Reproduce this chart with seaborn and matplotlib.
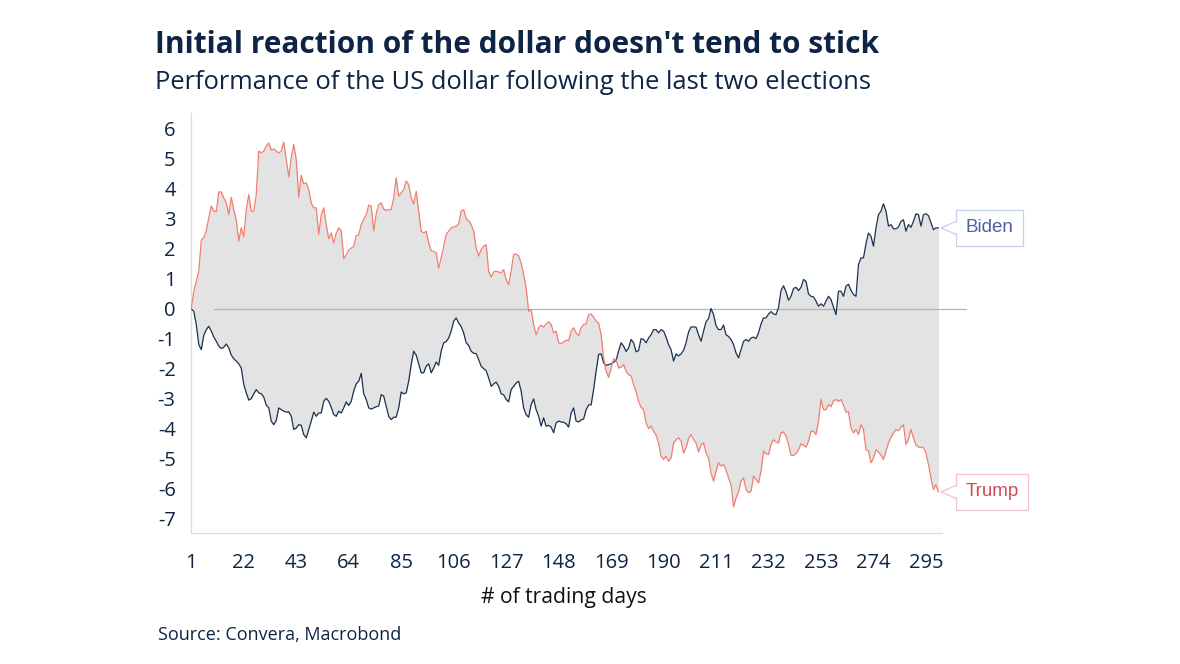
import matplotlib
matplotlib.use("Agg")
import matplotlib.pyplot as plt
import numpy as np
import pandas as pd
import seaborn as sns
from matplotlib.patches import Polygon
from matplotlib.lines import Line2D
from matplotlib.transforms import ScaledTranslation

# ---------------- data ----------------
trump = [
    0, 0.59, 0.92, 1.26, 2.29, 2.38, 2.6, 3.04, 3.43, 3.26,
    3.24, 3.9, 3.9, 3.7, 3.53, 3.14, 3.72, 3.3, 2.97, 2.26,
    2.7, 2.4, 3.31, 3.81, 3.26, 3.26, 3.81, 5.26, 5.2, 5.26,
    5.42, 5.53, 5.3, 5.33, 5.26, 5.2, 5.26, 5.56, 4.98, 4.4,
    5.03, 5.48, 4.98, 3.73, 4.45, 4.17, 4.2, 3.98, 3.53, 3.37,
    3.37, 2.48, 3.14, 3.37, 2.81, 2.34, 2.53, 2.2, 2.53, 2.7,
    2.61, 1.68, 1.81, 1.96, 2.03, 2.08, 2.44, 2.47, 2.81, 2.98,
    3.14, 3.46, 3.42, 2.6, 3.17, 3.48, 3.53, 3.33, 3.28, 3.31,
    3.31, 3.7, 4.37, 3.76, 3.87, 3.98, 4.26, 4.14, 3.7, 3.5,
    3.92, 3.26, 2.59, 2.53, 2.59, 2.2, 1.94, 1.92, 1.87, 1.35,
    1.7, 2.09, 2.48, 2.59, 2.7, 2.73, 2.76, 2.83, 3.26, 3.31,
    3.01, 2.94, 2.81, 2.59, 2.03, 1.76, 1.98, 2.09, 2.14, 1.26,
    1.06, 1.23, 1.26, 1.23, 1.2, 1.31, 0.98, 0.81, 1.26, 1.81,
    1.83, 1.76, 1.53, 1.14, 0.7, -0.08, -0.02, -0.52, -0.86, -0.63,
    -0.54, -0.61, -0.5, -0.43, -0.52, -0.8, -0.74, -1.13, -1.16, -1.1,
    -1.05, -1.05, -0.74, -0.63, -0.8, -0.89, -0.63, -0.52, -0.5, -0.19,
    -0.17, -0.27, -0.41, -0.47, -0.86, -1.63, -2.08, -2.28, -1.97, -1.67,
    -1.7, -1.97, -1.94, -1.86, -2.08, -2.19, -2.24, -2.52, -2.77, -3.08,
    -3.28, -3.36, -3.8, -3.99, -3.91, -4.08, -4.21, -4.47, -4.91, -5.02,
    -4.91, -5.08, -4.97, -4.47, -4.36, -4.3, -4.41, -4.8, -4.63, -4.32,
    -4.19, -4.36, -4.47, -4.77, -4.52, -4.47, -4.8, -4.97, -5.47, -5.74,
    -5.41, -5.13, -5.24, -5.19, -5.36, -5.63, -5.86, -6.6, -6.3, -6.1,
    -5.74, -5.63, -6.02, -6.13, -6.08, -5.58, -5.69, -5.8, -5.41, -4.74,
    -4.83, -4.86, -4.52, -4.36, -4.44, -4.47, -4.13, -4.1, -4.24, -4.52,
    -4.88, -4.88, -4.82, -4.69, -4.5, -4.54, -4.61, -4.41, -4.08, -4.08,
    -4.19, -3.74, -3.02, -3.36, -3.36, -3.19, -3.26, -3.06, -3.02, -3.08,
    -3.02, -3.21, -3.44, -3.43, -3.97, -4.13, -4.02, -4.19, -3.86, -4.02,
    -4.69, -4.74, -5.13, -4.97, -4.69, -4.77, -4.88, -5.02, -4.74, -4.47,
    -4.28, -4.13, -4.02, -4.06, -3.94, -3.86, -4.52, -4.36, -4.02, -4.3,
    -4.54, -4.61, -4.61, -4.63, -4.8, -5.19, -5.63, -6.02, -5.86, -6.1,
]

biden = [
    0, -0.08, -0.52, -1.19, -1.36, -0.88, -0.69, -0.58, -0.74, -0.94,
    -1.08, -1.24, -1.32, -1.28, -1.17, -1.3, -1.54, -1.66, -1.74, -1.83,
    -1.97, -2.52, -2.8, -3.04, -2.99, -2.83, -2.69, -2.8, -2.83, -2.94,
    -3.21, -3.3, -3.74, -3.86, -3.72, -3.3, -3.36, -3.41, -3.44, -3.43,
    -3.58, -4.02, -3.97, -3.86, -3.88, -4.19, -4.3, -4.02, -3.74, -3.44,
    -3.58, -3.47, -3.47, -3.08, -2.98, -3.08, -3.28, -3.52, -3.58, -3.41,
    -3.47, -3.3, -3.1, -3.22, -3.08, -2.74, -2.5, -2.41, -2.15, -2.83,
    -3.02, -3.3, -3.34, -3.3, -3.26, -3.24, -2.86, -2.91, -3.24, -3.58,
    -3.69, -3.61, -3.61, -3.3, -2.77, -2.83, -2.8, -2.41, -1.86, -1.41,
    -1.54, -1.83, -2.13, -2.13, -1.91, -1.83, -2.13, -1.97, -1.77, -1.88,
    -1.41, -1.13, -1.09, -0.97, -0.74, -0.41, -0.3, -0.47, -0.59, -0.8,
    -1.13, -1.22, -1.41, -1.48, -1.49, -1.69, -1.91, -1.99, -2.06, -2.3,
    -2.58, -2.5, -2.44, -2.58, -2.83, -2.86, -3.02, -3.1, -2.69, -2.58,
    -2.47, -2.41, -2.74, -3.3, -3.53, -3.61, -3.19, -3.0, -3.36, -3.58,
    -3.91, -3.63, -3.91, -3.88, -3.94, -4.13, -3.8, -3.74, -3.77, -3.78,
    -3.83, -3.94, -3.47, -3.3, -3.74, -3.77, -3.7, -3.67, -3.36, -3.2,
    -3.2, -2.69, -2.08, -1.52, -1.5, -1.8, -1.88, -1.86, -1.83, -1.78,
    -1.71, -1.41, -1.13, -1.24, -1.42, -1.3, -1.02, -1.13, -1.43, -1.39,
    -0.99, -1.02, -1.13, -0.97, -0.86, -0.69, -0.69, -0.8, -0.69, -0.74,
    -0.94, -1.19, -1.36, -1.74, -1.5, -1.57, -1.5, -1.38, -1.13, -0.77,
    -0.6, -0.6, -0.61, -0.86, -1.08, -0.74, -0.43, -0.32, 0.01, -0.19,
    -0.56, -0.69, -0.69, -0.54, -0.86, -0.92, -1.02, -1.19, -1.47, -1.63,
    -1.36, -1.08, -1.02, -1.08, -0.97, -0.94, -0.99, -0.8, -0.5, -0.3,
    -0.3, -0.17, -0.09, -0.17, -0.19, 0.05, 0.61, 0.77, 0.57, 0.29,
    0.42, 0.68, 0.72, 0.61, 0.72, 0.98, 0.92, 0.5, 0.42, 0.4,
    0.26, 0.09, 0.17, 0.09, 0.26, 0.42, 0.31, 0.06, -0.19, 0.59,
    0.59, 0.42, 0.76, 0.82, 0.62, 0.48, 0.42, 1.48, 1.7, 1.7,
    2.17, 2.53, 2.42, 2.09, 2.7, 3.14, 3.26, 3.5, 3.26, 2.76,
    2.81, 2.67, 2.67, 2.73, 2.92, 2.97, 2.59, 2.81, 2.72, 2.92,
    3.17, 3.14, 2.76, 3.14, 3.17, 3.11, 2.87, 2.64, 2.7, 2.7,
]

days = list(range(1, len(biden) + 1))
x_ticks = [1, 22, 43, 64, 85, 106, 127, 148, 169, 190, 211, 232, 253, 274, 295]
y_ticks = [6, 5, 4, 3, 2, 1, 0, -1, -2, -3, -4, -5, -6, -7]
series_names = ["Biden", "Trump"]

title = "Initial reaction of the dollar doesn't tend to stick"
subtitle = "Performance of the US dollar following the last two elections"
x_label = "# of trading days"
source = "Source: Convera, Macrobond"

# ---------------- style ----------------
NAVY = "#0d2444"
BIDEN_C = "#1a3150"
TRUMP_C = "#f07f71"
FILL_C = "#e3e3e3"

sns.set_style("white")
plt.rcParams["font.family"] = ["Open Sans", "DejaVu Sans"]

W, H = 1180, 664
fig = plt.figure(figsize=(W / 100, H / 100), dpi=100)
renderer = fig.canvas.get_renderer()

L, R, T, B = 191.3, 941.7, 113, 533
ax = fig.add_axes([L / W, 1 - B / H, (R - L) / W, (B - T) / H])

df = pd.DataFrame({
    "day": days * 2,
    "value": biden + trump,
    "series": [series_names[0]] * len(biden) + [series_names[1]] * len(trump),
})

ax.fill_between(days, biden, trump, color=FILL_C, lw=0, zorder=1)
ax.axhline(0, xmin=0.0307, xmax=1.032, color="#b3b3b3", lw=0.9, zorder=1.5, clip_on=False)
sns.lineplot(data=df, x="day", y="value", hue="series",
             palette={"Biden": BIDEN_C, "Trump": TRUMP_C},
             estimator=None, sort=False, legend=False, lw=0.9, ax=ax, zorder=3)

ax.set_xlim(1, 301.3)
ax.set_ylim(-7.47, 6.53)
ax.set_xticks(x_ticks)
ax.set_xticklabels([str(t) for t in x_ticks])
ax.set_yticks(y_ticks)
ax.set_yticklabels([str(t) for t in y_ticks])
ax.set_xlabel("")
ax.set_ylabel("")

for s in ["top", "right"]:
    ax.spines[s].set_visible(False)
for s in ["left", "bottom"]:
    ax.spines[s].set_color("#dcdcdc")
    ax.spines[s].set_linewidth(0.9)

ax.tick_params(axis="both", colors="#a8a8a8", labelcolor=NAVY, labelsize=14.5,
               length=5.2, width=0.8, direction="out")
ax.tick_params(axis="x", pad=9)
ax.tick_params(axis="y", pad=6)

# ---------------- texts ----------------
def fit_width(txt, target):
    w = txt.get_window_extent(renderer).width
    txt.set_fontsize(txt.get_fontsize() * target / w)

t1 = fig.text(155 / W, 1 - 53 / H, title, fontsize=19, fontweight="bold",
              color=NAVY, ha="left", va="baseline")
fit_width(t1, 722)
t2 = fig.text(155 / W, 1 - 89 / H, subtitle, fontsize=17, color=NAVY,
              ha="left", va="baseline")
fit_width(t2, 717)
t3 = fig.text(564 / W, 1 - 603 / H, x_label, fontsize=14, color="#111111",
              ha="center", va="baseline")
fit_width(t3, 167)
t4 = fig.text(158 / W, 1 - 640 / H, source, fontsize=12, color=NAVY,
              ha="left", va="baseline")
fit_width(t4, 242)

# ---------------- end-of-line callouts ----------------
def callout(day, val, text, tcolor, ecolor):
    ax.annotate(text, xy=(day, val), xytext=(19.7, 0), textcoords="offset points",
                ha="left", va="center", color=tcolor, fontsize=13.5,
                family=["Liberation Sans", "DejaVu Sans"],
                bbox=dict(boxstyle="square,pad=0.5", fc="white", ec=ecolor, lw=0.9),
                annotation_clip=False, zorder=6)
    tr = fig.dpi_scale_trans + ScaledTranslation(day, val, ax.transData)
    tip = (0.024, 0.0)
    bx = 0.18
    h = 0.066
    cover = Polygon([tip, (bx + 0.012, h - 0.008), (bx + 0.012, -h + 0.008)],
                    closed=True, fc="white", ec="none", transform=tr,
                    clip_on=False, zorder=7)
    ax.add_patch(cover)
    edge = Line2D([bx, tip[0], bx], [h, tip[1], -h], color=ecolor, lw=0.9,
                  transform=tr, clip_on=False, zorder=8)
    ax.add_line(edge)

callout(days[-1], biden[-1], series_names[0], "#4a63a6", "#c6d0e8")
callout(days[-1], trump[-1], series_names[1], "#cf4a55", "#f1c3c7")

fig.savefig("out.png", dpi=100)
